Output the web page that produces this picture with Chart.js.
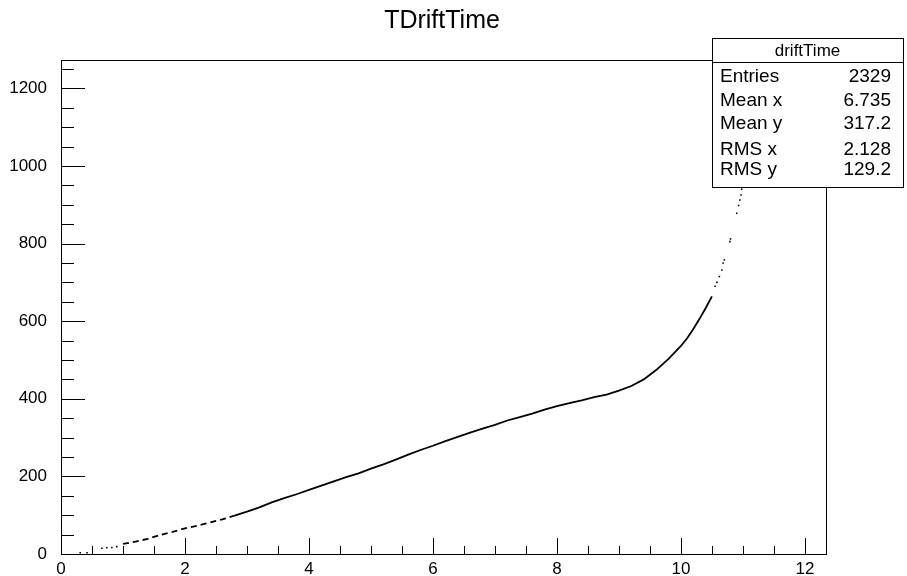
<!DOCTYPE html>
<html>
<head>
<meta charset="utf-8">
<title>TDriftTime</title>
<script src="https://cdn.jsdelivr.net/npm/chart.js@4/dist/chart.umd.min.js"></script>
<style>
  html, body { margin: 0; padding: 0; background: #fff; }
  #wrap { width: 907px; height: 576px; position: relative; }
</style>
</head>
<body>
<div id="wrap"><canvas id="drift"></canvas></div>
<script>
// drift time vs distance, dense part drawn as a line, sparse tails as dots
const curveX = [1.0, 1.2, 1.4, 1.6, 1.8, 2.0, 2.2, 2.4, 2.6, 2.8, 3.0, 3.2, 3.4, 3.6, 3.8,
  4.0, 4.2, 4.4, 4.6, 4.8, 5.0, 5.2, 5.4, 5.6, 5.8, 6.0, 6.2, 6.4, 6.6, 6.8,
  7.0, 7.2, 7.4, 7.6, 7.8, 8.0, 8.2, 8.4, 8.6, 8.8, 9.0, 9.2, 9.4, 9.6, 9.8,
  10.0, 10.1, 10.2, 10.3, 10.4, 10.5];
const curveY = [26, 32, 39, 49, 57, 66, 73, 81, 89, 99, 109, 120, 133, 144, 154,
  165, 176, 187, 198, 208, 220, 231, 243, 256, 268, 279, 291, 302, 313, 323,
  333, 344, 353, 362, 372, 381, 389, 396, 404, 411, 421, 433, 450, 474, 503,
  536, 556, 580, 606, 634, 664];

const tailX = [0.31, 0.42, 0.66, 0.74, 0.82, 0.90,
  10.55, 10.58, 10.62, 10.66, 10.68, 10.70, 10.79, 10.80, 10.90, 10.93, 10.95, 10.97, 10.98, 11.02, 11.08];
const tailY = [3, 3, 15, 16, 17, 19,
  690, 700, 715, 732, 750, 758, 805, 812, 878, 898, 912, 925, 940, 975, 1030];

const xTicks = [0, 2, 4, 6, 8, 10, 12];
const yTicks = [0, 200, 400, 600, 800, 1000, 1200];

const statNames = ['Entries', 'Mean x', 'Mean y', 'RMS x', 'RMS y'];
const statValues = ['2329', '6.735', '317.2', '2.128', '129.2'];

const FONT = 'Liberation Sans, Arial, sans-serif';

// frame around the plot area plus inward major/minor ticks
const frameTicks = {
  id: 'frameTicks',
  afterDatasetsDraw(chart) {
    const { ctx, chartArea: a, scales: { x, y } } = chart;
    ctx.save();
    ctx.strokeStyle = '#000';
    ctx.lineWidth = 1;
    ctx.strokeRect(Math.round(a.left) + 0.5, Math.round(a.top) + 0.5,
      Math.round(a.right - a.left), Math.round(a.bottom - a.top));
    ctx.beginPath();
    for (let v = 0; v <= x.max + 1e-9; v += 0.5) {
      const px = Math.round(x.getPixelForValue(v)) + 0.5;
      const len = Math.abs(v % 2) < 1e-9 ? 16 : 8;
      ctx.moveTo(px, a.bottom);
      ctx.lineTo(px, a.bottom - len);
    }
    for (let v = 0; v <= y.max + 1e-9; v += 50) {
      const py = Math.round(y.getPixelForValue(v)) + 0.5;
      const len = v % 200 === 0 ? 24 : 13;
      ctx.moveTo(a.left, py);
      ctx.lineTo(a.left + len, py);
    }
    ctx.stroke();
    ctx.restore();
  }
};

// histogram title and the statistics box in the upper right
const titleAndStats = {
  id: 'titleAndStats',
  afterDraw(chart) {
    const { ctx } = chart;
    ctx.save();
    ctx.fillStyle = '#000';
    ctx.textBaseline = 'middle';
    ctx.textAlign = 'center';
    ctx.font = `25px ${FONT}`;
    ctx.fillText('TDriftTime', 442, 21);

    const left = 712, top = 38, right = 903, bottom = 187;
    ctx.fillStyle = '#fff';
    ctx.fillRect(left, top, right - left, bottom - top);
    ctx.strokeStyle = '#000';
    ctx.lineWidth = 1;
    ctx.strokeRect(left + 0.5, top + 0.5, right - left, bottom - top);
    ctx.beginPath();
    ctx.moveTo(left, 62.5);
    ctx.lineTo(right, 62.5);
    ctx.stroke();

    ctx.fillStyle = '#000';
    ctx.font = `17px ${FONT}`;
    ctx.fillText('driftTime', (left + right) / 2, 51);

    ctx.font = `19px ${FONT}`;
    const rows = [77, 101, 124, 150, 170];
    statNames.forEach((name, i) => {
      ctx.textAlign = 'left';
      ctx.fillText(name, 720, rows[i]);
      ctx.textAlign = 'right';
      ctx.fillText(statValues[i], 891, rows[i]);
    });
    ctx.restore();
  }
};

new Chart(document.getElementById('drift'), {
  type: 'scatter',
  data: {
    datasets: [
      {
        label: 'curve',
        data: curveX.map((v, i) => ({ x: v, y: curveY[i] })),
        showLine: true,
        borderColor: '#000',
        borderWidth: 1.8,
        pointRadius: 0,
        tension: 0,
        // low-x part is thinly populated, so it reads as broken dashes
        segment: {
          borderDash: c => (c.p1.parsed.x <= 2.8 ? [6, 4] : undefined)
        }
      },
      {
        label: 'tails',
        data: tailX.map((v, i) => ({ x: v, y: tailY[i] })),
        backgroundColor: '#000',
        borderWidth: 0,
        pointStyle: 'rect',
        pointRadius: 1.1
      }
    ]
  },
  options: {
    responsive: true,
    maintainAspectRatio: false,
    animation: false,
    events: [],
    layout: { padding: { top: 60, right: 81, left: 0, bottom: 0 } },
    plugins: {
      legend: { display: false },
      tooltip: { enabled: false },
      title: { display: false }
    },
    scales: {
      x: {
        type: 'linear',
        min: 0,
        max: 12.34,
        grid: { display: false },
        border: { display: false },
        afterBuildTicks: s => { s.ticks = xTicks.map(v => ({ value: v })); },
        afterFit: s => { s.height = 22; },
        ticks: {
          padding: -3,
          color: '#000',
          maxRotation: 0,
          font: { family: FONT, size: 17 },
          callback: v => String(v)
        }
      },
      y: {
        type: 'linear',
        min: 0,
        max: 1273,
        grid: { display: false },
        border: { display: false },
        afterBuildTicks: s => { s.ticks = yTicks.map(v => ({ value: v })); },
        afterFit: s => { s.width = 61; },
        ticks: {
          padding: 6,
          color: '#000',
          font: { family: FONT, size: 17 },
          callback: v => String(v)
        }
      }
    }
  },
  plugins: [frameTicks, titleAndStats]
});
</script>
</body>
</html>
